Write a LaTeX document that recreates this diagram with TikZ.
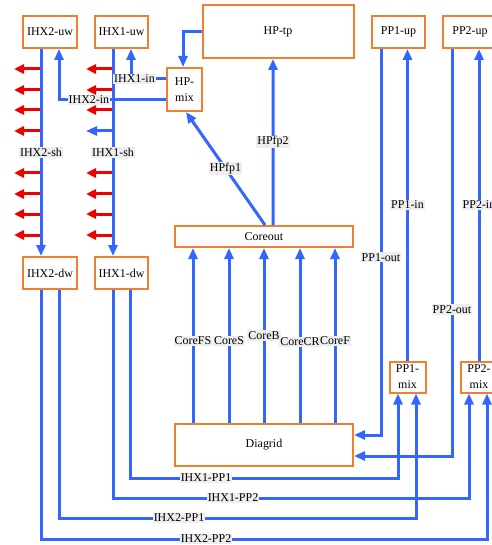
\documentclass[tikz,border=0pt]{standalone}
\usepackage{fontspec}
\setmainfont{Liberation Serif}
\usetikzlibrary{arrows.meta}
\definecolor{flowblue}{RGB}{51,102,255}
\definecolor{boxorange}{RGB}{240,128,48}
\definecolor{heatred}{RGB}{238,0,0}
\definecolor{labelgray}{RGB}{238,238,238}
\begin{document}
\begin{tikzpicture}[x=1bp,y=-1bp,
  box/.style={draw=boxorange, line width=2bp, fill=white, inner sep=0pt, align=center,
              font=\fontsize{12}{16}\selectfont},
  flow/.style={draw=flowblue, line width=3bp, -{Triangle[length=11bp,width=9bp]}},
  heat/.style={draw=heatred, line width=3bp, -{Triangle[length=10bp,width=9bp]}},
  lbl/.style={fill=labelgray, inner sep=1bp, font=\fontsize{12}{13}\selectfont},
]
\useasboundingbox (0,0) rectangle (492,545);
\clip (0,0) rectangle (492,545);

% boxes
\node[box, minimum width=54bp, minimum height=32bp] (ihx2uw) at (50,32) {IHX2-uw};
\node[box, minimum width=53bp, minimum height=32bp] (ihx1uw) at (121.5,32) {IHX1-uw};
\node[box, minimum width=151bp, minimum height=53bp] (hptp) at (278,31.5) {HP-tp};
\node[box, minimum width=53bp, minimum height=32bp] (pp1up) at (398.5,32) {PP1-up};
\node[box, minimum width=54bp, minimum height=32bp] (pp2up) at (470,32) {PP2-up};
\node[box, minimum width=35bp, minimum height=43bp] (hpmix) at (184.5,89.5) {HP-\\mix};
\node[box, minimum width=54bp, minimum height=32bp] (ihx2dw) at (50,273) {IHX2-dw};
\node[box, minimum width=53bp, minimum height=32bp] (ihx1dw) at (121.5,273) {IHX1-dw};
\node[box, minimum width=178bp, minimum height=21bp] (coreout) at (264,236.5) {Coreout};
\node[box, minimum width=178bp, minimum height=42bp] (diagrid) at (264,445) {Diagrid};
\node[box, minimum width=36bp, minimum height=31bp] (pp1mix) at (407.5,377) {PP1-\\mix};
\node[box, minimum width=36bp, minimum height=31bp] (pp2mix) at (479,377) {PP2-\\mix};

% heat rejection arrows
\foreach \y in {69,90,110,131,173,194,214,235}
  \draw[heat] (41,\y) -- (14,\y);
\foreach \y in {69,90,110,173,194,214,235}
  \draw[heat] (113,\y) -- (86,\y);
\draw[flow] (113,131) -- (86,131);

% IHX shells
\draw[flow] ([xshift=-9bp]ihx2uw.south) -- node[lbl]{IHX2-sh} ([xshift=-9bp]ihx2dw.north);
\draw[flow] ([xshift=-8.5bp]ihx1uw.south) -- node[lbl]{IHX1-sh} ([xshift=-8.5bp]ihx1dw.north);

% HP routes
\draw[flow] (hptp.west) -| ([xshift=-1.5bp]hpmix.north);
\draw[flow] ([yshift=10.5bp]hpmix.west) -| node[lbl,pos=0.45]{IHX1-in} ([xshift=9.5bp]ihx1uw.south);
\draw[flow] ([yshift=-10.5bp]hpmix.west) -| node[lbl,pos=0.36]{IHX2-in} ([xshift=9bp]ihx2uw.south);
\draw[flow] ([xshift=1bp]coreout.north) -- node[lbl]{HPfp1} ([xshift=1.5bp]hpmix.south);
\draw[flow] ([xshift=9bp]coreout.north) -- node[lbl]{HPfp2} ([xshift=-5bp]hptp.south);

% core channels
\foreach \dx/\t/\p in {-71/CoreFS/0.47, -35/CoreS/0.47, 0/CoreB/0.5, 36/CoreCR/0.465, 71/CoreF/0.47}
  \draw[flow] ([xshift=\dx bp]diagrid.north) -- node[lbl,pos=\p]{\t} ([xshift=\dx bp]coreout.south);

% pump loops
\draw[flow] (pp1mix.north) -- node[lbl]{PP1-in} (pp1mix.north |- pp1up.south);
\draw[flow] (pp2mix.north) -- node[lbl]{PP2-in} (pp2mix.north |- pp2up.south);
\draw[flow] ([xshift=-17.5bp]pp1up.south) |- node[lbl,pos=0.27]{PP1-out} ([yshift=10bp]diagrid.east);
\draw[flow] ([xshift=-18bp]pp2up.south) |- node[lbl,pos=0.32]{PP2-out} ([yshift=-11bp]diagrid.east);

% bottom routes
\coordinate (h11) at (206,478);
\coordinate (h12) at (233,498);
\coordinate (h21) at (179,518);
\coordinate (h22) at (206,539);
\draw[flow] ([xshift=8.5bp]ihx1dw.south) |- (h11) node[lbl]{IHX1-PP1} -| ([xshift=-9.5bp]pp1mix.south);
\draw[flow] ([xshift=-8.5bp]ihx1dw.south) |- (h12) node[lbl]{IHX1-PP2} -| ([xshift=-10bp]pp2mix.south);
\draw[flow] ([xshift=9bp]ihx2dw.south) |- (h21) node[lbl]{IHX2-PP1} -| ([xshift=8.5bp]pp1mix.south);
\draw[flow] ([xshift=-9bp]ihx2dw.south) |- (h22) node[lbl]{IHX2-PP2} -| ([xshift=8bp]pp2mix.south);
\end{tikzpicture}
\end{document}
